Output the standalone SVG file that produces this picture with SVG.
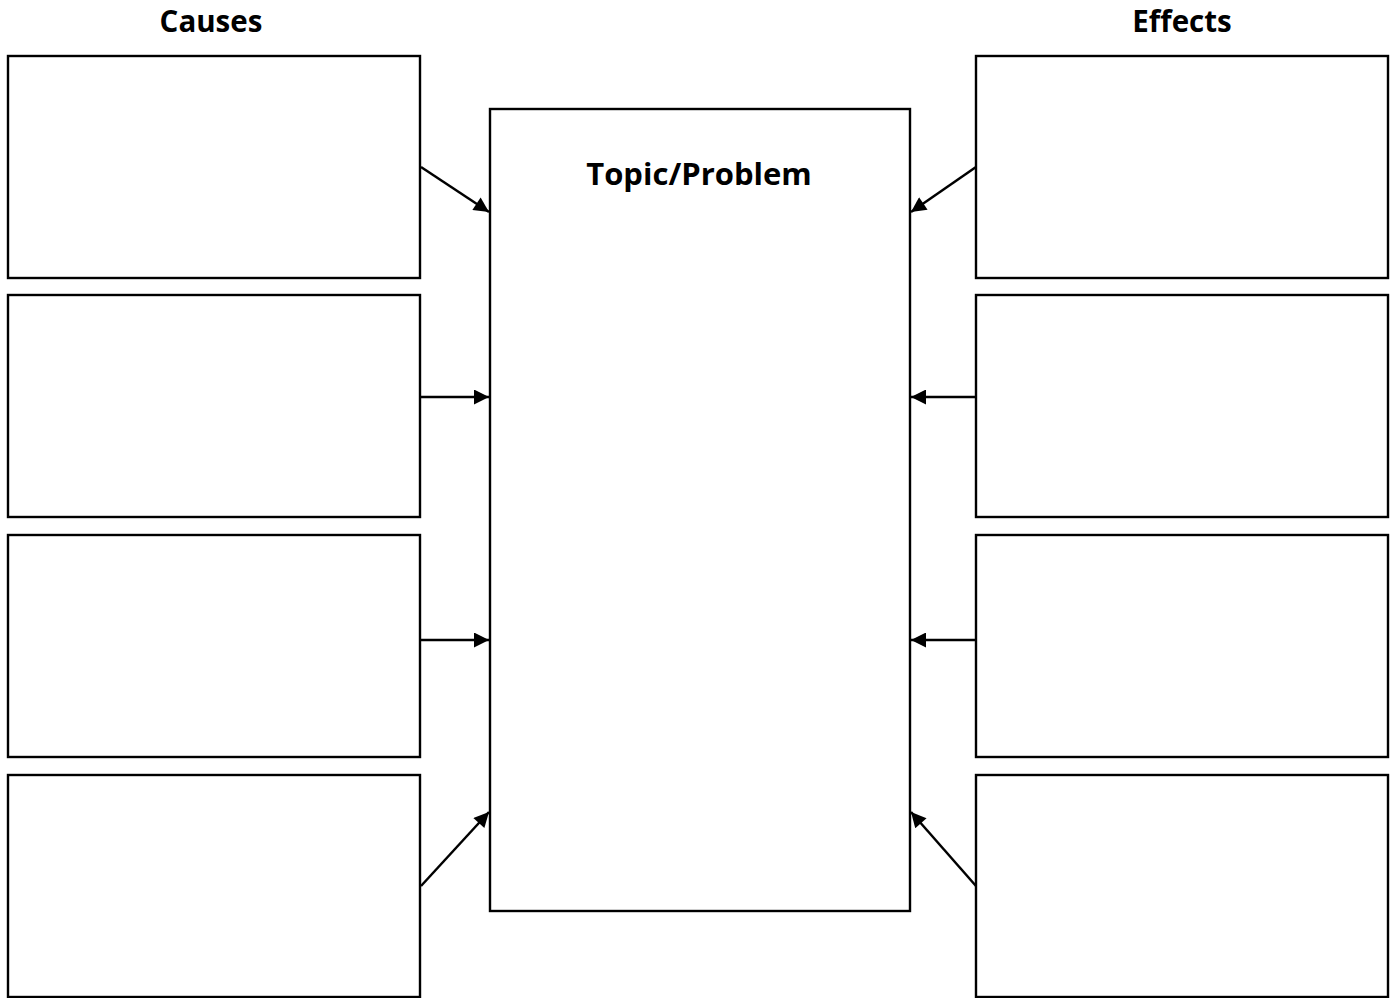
<svg xmlns="http://www.w3.org/2000/svg" width="1397" height="998" viewBox="0 0 1397 998">
<style>
.box{fill:#fff;stroke:#000;stroke-width:2.4}
.t{font-family:"Open Sans","Noto Sans","Liberation Sans",sans-serif;font-weight:bold;font-size:29.5px;fill:#000;text-anchor:middle}
.tp{font-size:31px}
.c{stroke:#000;stroke-width:2.5;fill:none;marker-end:url(#ah)}
</style>
<defs>
<marker id="ah" viewBox="0 0 10 10" refX="10" refY="5" markerWidth="7" markerHeight="6" markerUnits="strokeWidth" orient="auto">
<path d="M0,0 L10,5 L0,10 Z" fill="#000"/>
</marker>
</defs>
<rect width="1397" height="998" fill="#fff"/>
<text class="t" x="211" y="32">Causes</text>
<text class="t" x="1182" y="32">Effects</text>
<g id="topic"><rect class="box" x="490" y="109" width="420" height="802"/><text class="t tp" x="699" y="185">Topic/Problem</text></g>
<g id="cause1"><rect class="box" x="8" y="56" width="412" height="222"/></g>
<g id="cause2"><rect class="box" x="8" y="295" width="412" height="222"/></g>
<g id="cause3"><rect class="box" x="8" y="535" width="412" height="222"/></g>
<g id="cause4"><rect class="box" x="8" y="775" width="412" height="222"/></g>
<g id="effect1"><rect class="box" x="976" y="56" width="412" height="222"/></g>
<g id="effect2"><rect class="box" x="976" y="295" width="412" height="222"/></g>
<g id="effect3"><rect class="box" x="976" y="535" width="412" height="222"/></g>
<g id="effect4"><rect class="box" x="976" y="775" width="412" height="222"/></g>
<g id="connectors">
<line class="c" x1="421" y1="167" x2="489" y2="212"/>
<line class="c" x1="421" y1="397" x2="489" y2="397"/>
<line class="c" x1="421" y1="640" x2="489" y2="640"/>
<line class="c" x1="421" y1="886" x2="489" y2="812"/>
<line class="c" x1="976" y1="167" x2="911" y2="212"/>
<line class="c" x1="976" y1="397" x2="911" y2="397"/>
<line class="c" x1="976" y1="640" x2="911" y2="640"/>
<line class="c" x1="976" y1="886" x2="911" y2="812"/>
</g>
</svg>
